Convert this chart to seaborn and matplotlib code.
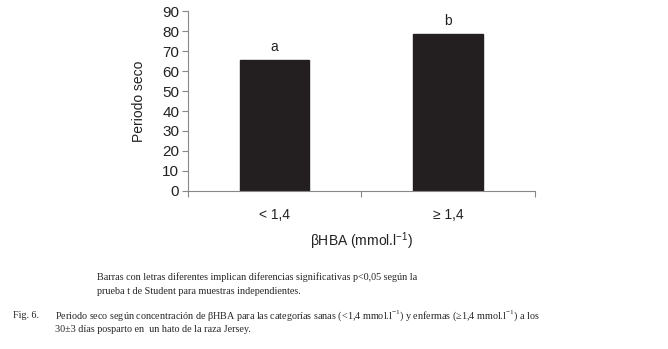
import matplotlib
matplotlib.use('Agg')
import matplotlib.pyplot as plt
import pandas as pd
import seaborn as sns

# data
categorias = ['< 1,4', '≥ 1,4']
periodo_seco = [65.5, 78.5]
letras = ['a', 'b']

sns.set_style('white')
plt.rcParams['font.family'] = ['Liberation Sans', 'DejaVu Sans']

df = pd.DataFrame({'cat': categorias, 'valor': periodo_seco})

fig = plt.figure(figsize=(6.68, 3.49), dpi=100)
ax = fig.add_axes([0.281, 0.453, 0.520, 0.515])

sns.barplot(data=df, x='cat', y='valor', color='#231f20', width=0.4,
            saturation=1, edgecolor='#231f20', ax=ax)

for i, (v, l) in enumerate(zip(periodo_seco, letras)):
    ax.text(i, v + 3, l, ha='center', va='bottom', fontsize=10, color='#222222')

ax.set_ylim(0, 90)
ax.set_xlim(-0.5, 1.5)
ax.set_yticks(range(0, 91, 10))
ax.set_xticks([0, 1])
ax.set_xticks([-0.5, 0.5, 1.5], minor=True)
ax.tick_params(axis='x', which='major', length=0, pad=12, labelsize=10, colors='#222222')
ax.tick_params(axis='x', which='minor', length=4, width=0.8, color='#888888', direction='out')
ax.tick_params(axis='y', length=4, width=0.8, color='#888888', direction='out',
               labelsize=11, labelcolor='#222222', pad=2)
ax.xaxis.set_ticks_position('bottom')
ax.yaxis.set_ticks_position('left')

for s in ['top', 'right']:
    ax.spines[s].set_visible(False)
for s in ['left', 'bottom']:
    ax.spines[s].set_color('#888888')
    ax.spines[s].set_linewidth(0.8)

ax.set_xlabel('βHBA (mmol.l$^{\\mathregular{-1}}$)', fontsize=10, color='#222222', labelpad=6)
ax.set_ylabel('Periodo seco', fontsize=10, color='#222222', labelpad=12)

serif = ['Liberation Serif', 'DejaVu Serif']
fs = 7.3
fig.text(97/668, 1 - 277/349, 'Barras con letras diferentes implican diferencias significativas p<0,05 según la',
         family=serif, fontsize=fs, va='center', ha='left')
fig.text(97/668, 1 - 292/349, 'prueba t de Student para muestras independientes.',
         family=serif, fontsize=fs, va='center', ha='left')
fig.text(13/668, 1 - 316/349, 'Fig. 6.', family=serif, fontsize=fs, va='center', ha='left')
fig.text(55/668, 1 - 316/349,
         'Periodo seco según concentración de βHBA para las categorías sanas (<1,4 mmol.l$^{\\mathregular{-1}}$) '
         'y enfermas (≥1,4 mmol.l$^{\\mathregular{-1}}$) a los',
         family=serif, fontsize=fs, va='center', ha='left')
fig.text(55/668, 1 - 330/349, '30±3 días posparto en  un hato de la raza Jersey.',
         family=serif, fontsize=fs, va='center', ha='left')

fig.savefig('out.png', dpi=100)
